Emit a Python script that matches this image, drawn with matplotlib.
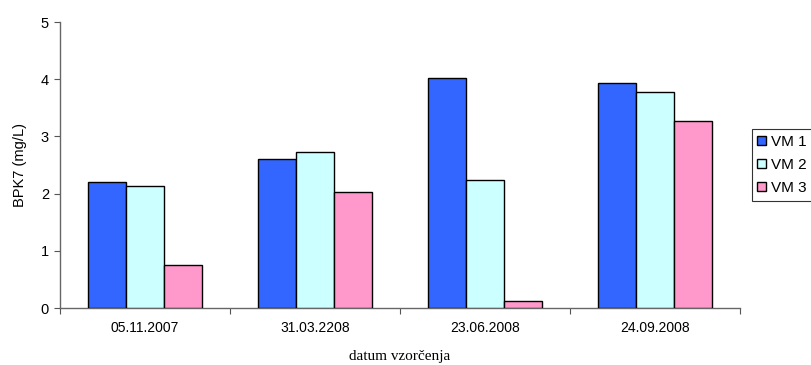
import numpy as np
import matplotlib.pyplot as plt

plt.rcParams["font.family"] = ["Liberation Sans", "DejaVu Sans"]

dates = ["05.11.2007", "31.03.2208", "23.06.2008", "24.09.2008"]
vm1 = [2.20, 2.61, 4.02, 3.94]
vm2 = [2.14, 2.72, 2.24, 3.78]
vm3 = [0.76, 2.03, 0.13, 3.27]
names = ["VM 1", "VM 2", "VM 3"]
colors = ["#3366FF", "#CCFFFF", "#FF99CC"]

fig = plt.figure(figsize=(8.11, 3.65), dpi=100)
ax = fig.add_axes([60/811, 57/365, 680/811, 286/365])

x = np.arange(len(dates))
w = 0.224
for i, (vals, c, n) in enumerate(zip([vm1, vm2, vm3], colors, names)):
    ax.bar(x + (i - 1) * w, vals, width=w, color=c, edgecolor="black",
           linewidth=1.0, label=n, zorder=3)

ax.set_xlim(-0.5, len(dates) - 0.5)
ax.set_ylim(0, 5)
ax.set_yticks(range(6))

# boundaries get the tick marks, centres get the labels
ax.set_xticks(np.arange(len(dates) + 1) - 0.5)
ax.set_xticklabels([])
ax.set_xticks(x, minor=True)
ax.set_xticklabels(dates, minor=True)
ax.tick_params(axis="x", which="minor", length=0, pad=9, labelsize=10)
ax.tick_params(axis="x", which="major", length=4, color="#555555", direction="out")
ax.tick_params(axis="y", length=4, color="#555555", labelsize=10.5, pad=4)

for s in ["top", "right"]:
    ax.spines[s].set_visible(False)
for s in ["left", "bottom"]:
    ax.spines[s].set_color("#666666")
    ax.spines[s].set_linewidth(1.0)

ax.set_ylabel("BPK7 (mg/L)", fontsize=10.5, labelpad=10)
ax.set_xlabel("datum vzorčenja", fontsize=11, family=["Liberation Serif", "DejaVu Serif"],
              labelpad=11)

leg = ax.legend(loc="center left", bbox_to_anchor=(752/811, 200/365),
                bbox_transform=fig.transFigure, frameon=True, fancybox=False,
                edgecolor="black", fontsize=11, handlelength=0.55, handleheight=0.55,
                handletextpad=0.35, borderpad=0.35, labelspacing=0.6, borderaxespad=0)
leg.get_frame().set_linewidth(0.8)

fig.savefig("out.png", dpi=100)
